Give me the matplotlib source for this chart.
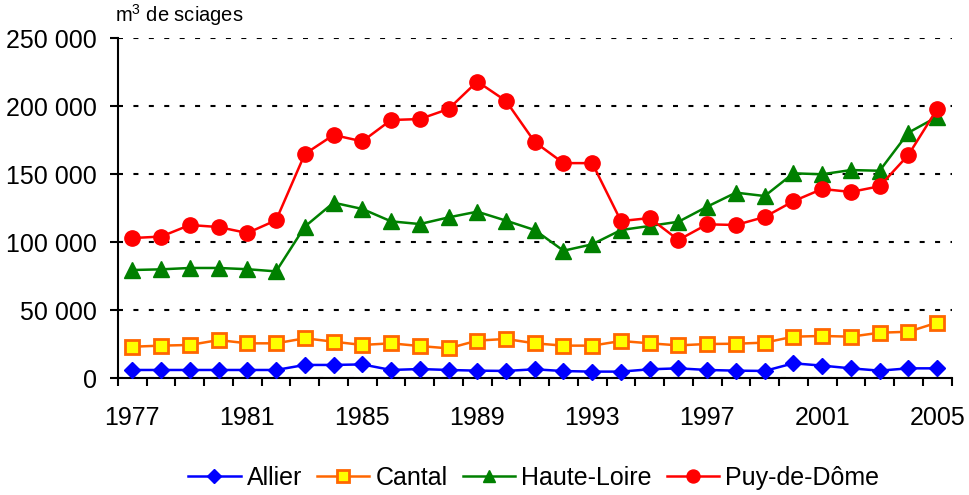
import matplotlib
matplotlib.use("Agg")
import matplotlib.pyplot as plt
from matplotlib.ticker import FuncFormatter, MultipleLocator, FixedLocator

years = list(range(1977, 2006))
allier = [5900, 5900, 5900, 5900, 5900, 5900, 9600, 9600, 10000, 5900,
          6600, 5900, 5400, 5200, 6400, 5100, 4700, 4700, 6400, 7100,
          5900, 5400, 5200, 10800, 9100, 7100, 5400, 7100, 7100]
cantal = [23000, 23800, 24300, 27900, 25500, 25500, 29200, 26700, 24300, 25500,
          23500, 21800, 27500, 28700, 25500, 23800, 23800, 27200, 25500, 24000,
          25000, 25200, 26000, 30400, 30900, 30400, 33300, 34000, 40700]
haute_loire = [79400, 79900, 80900, 80900, 80000, 78400, 111300, 128900, 124300, 115200,
               113200, 118100, 122300, 115700, 108800, 93600, 98300, 108800, 111800, 114900,
               126000, 136300, 133800, 150500, 149800, 152900, 152400, 180400, 192000]
puy_de_dome = [102900, 104000, 112500, 111000, 106600, 116000, 164700, 178700, 174000, 189700,
               190400, 197800, 218000, 203700, 173500, 158000, 158000, 115400, 117600, 101500,
               113000, 112500, 118400, 130000, 139000, 136800, 141000, 164000, 197800]
series_names = ["Allier", "Cantal", "Haute-Loire", "Puy-de-Dôme"]
y_label = "m$^3$ de sciages"

plt.rcParams['font.family'] = ['Liberation Sans', 'DejaVu Sans']
plt.rcParams['mathtext.fontset'] = 'custom'
plt.rcParams['mathtext.rm'] = 'Liberation Sans'

fig = plt.figure(figsize=(9.69, 4.95), dpi=100)
ax = fig.add_axes([118/969, 1-378/495, (951.5-118)/969, (378-38)/495])

lw = 1.8
ax.plot(years, allier, color='#0000FF', lw=lw, marker='D', ms=8.5,
        mfc='#0000FF', mec='#0000FF', label=series_names[0], zorder=3)
ax.plot(years, cantal, color='#FF6600', lw=lw, marker='s', ms=9.5,
        mfc='#FFFF00', mec='#FF6600', mew=2, label=series_names[1], zorder=3)
ax.plot(years, haute_loire, color='#008000', lw=lw, marker='^', ms=11,
        mfc='#008000', mec='#008000', label=series_names[2], zorder=3)
ax.plot(years, puy_de_dome, color='#FF0000', lw=lw, marker='o', ms=11,
        mfc='#FF0000', mec='#FF0000', label=series_names[3], zorder=3)

ax.set_xlim(1976.5, 2005.5)
ax.set_ylim(0, 250000)
ax.yaxis.set_major_locator(MultipleLocator(50000))
ax.yaxis.set_major_formatter(FuncFormatter(lambda v, p: f"{int(v):,}".replace(",", " ")))

label_years = list(range(1977, 2006, 4))
ax.xaxis.set_major_locator(FixedLocator(label_years))
ax.xaxis.set_minor_locator(FixedLocator([y + 0.5 for y in range(1976, 2006)]))
ax.tick_params(axis='x', which='major', length=0, labelsize=18, pad=20, colors='black')
ax.tick_params(axis='x', which='minor', length=6, width=1.5, direction='out', colors='black')
ax.tick_params(axis='y', which='major', length=6, width=1.5, direction='out', labelsize=18, pad=9)

for sp in ['top', 'right']:
    ax.spines[sp].set_visible(False)
for sp in ['left', 'bottom']:
    ax.spines[sp].set_linewidth(1.5)
    ax.spines[sp].set_color('black')

ax.grid(axis='y', color='black', linestyle=(0, (2.4, 5)), lw=1.5, zorder=0)
ax.set_axisbelow(True)
for line in ax.lines:
    line.set_clip_on(False)

fig.text(115/969, 1-22/495, y_label, fontsize=14.5, ha='left', va='baseline')

leg = fig.legend(loc='center', bbox_to_anchor=(533.5/969, 1-478/495), ncol=4, frameon=False,
                 fontsize=18, handlelength=2.1, handletextpad=0.24, columnspacing=0.6,
                 markerscale=0.85)

fig.savefig("out.png", dpi=100)
